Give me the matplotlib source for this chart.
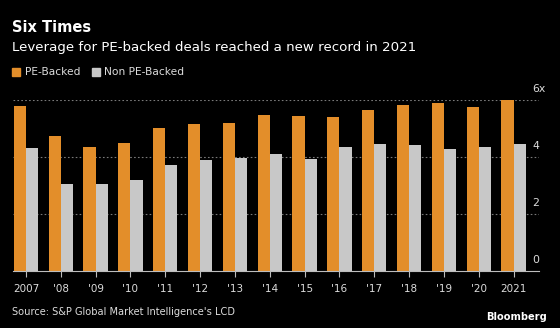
import numpy as np
import matplotlib
matplotlib.use("Agg")
import matplotlib.pyplot as plt
from matplotlib.patches import Rectangle

# leverage multiples by year
years = ["2007", "'08", "'09", "'10", "'11", "'12", "'13", "'14",
         "'15", "'16", "'17", "'18", "'19", "'20", "2021"]
pe_backed = [5.79, 4.75, 4.36, 4.48, 5.03, 5.15, 5.18, 5.49,
             5.45, 5.39, 5.64, 5.81, 5.91, 5.75, 6.00]
non_pe_backed = [4.30, 3.04, 3.04, 3.19, 3.71, 3.88, 3.98, 4.09,
                 3.94, 4.36, 4.46, 4.42, 4.27, 4.36, 4.46]
y_ticks = [0, 2, 4, 6]
y_labels = ["0", "2", "4", "6x"]

ORANGE = "#E38E2A"
GREY = "#C8C8C8"
TEXT = "#DCDCDC"
BG = "black"

plt.rcParams['font.family'] = ['DejaVu Sans']

fig = plt.figure(figsize=(5.6, 3.28), dpi=100, facecolor=BG)
W, H = 560.0, 328.0
ax = fig.add_axes([13 / W, 1 - 271 / H, 526 / W, 171 / H])
ax.set_facecolor(BG)

x = np.arange(len(years))
bw = 0.35
ax.bar(x - bw / 2, pe_backed, bw, color=ORANGE, zorder=3)
ax.bar(x + bw / 2, non_pe_backed, bw, color=GREY, zorder=3)

ax.set_xlim(-0.37, 14.73)
ax.set_ylim(0, 6)

# dotted gridlines and labels sitting above them
for t, lab in zip(y_ticks, y_labels):
    if t > 0:
        ax.axhline(t, color="#7A7A7A", lw=0.8, ls=(0, (1.5, 2)), zorder=1)
    ax.annotate(lab, xy=(1.0, t), xycoords=("axes fraction", "data"),
                xytext=(-5, 4), textcoords="offset points",
                ha="left", va="bottom", color=TEXT, fontsize=7.8,
                annotation_clip=False)

for s in ["top", "right", "left"]:
    ax.spines[s].set_visible(False)
ax.spines["bottom"].set_color("#BDBDBD")
ax.spines["bottom"].set_linewidth(0.8)
ax.spines["bottom"].set_zorder(4)
ax.set_yticks([])
ax.set_xticks(x)
ax.set_xticklabels(years)
ax.tick_params(axis="x", colors="#BDBDBD", length=4, width=0.8, pad=5,
               labelsize=7.5, labelcolor=TEXT)

# header
fig.text(12 / W, 1 - 27 / H, "Six Times", color="white", fontsize=10.5,
         fontweight="bold", va="center", ha="left")
fig.text(12 / W, 1 - 47 / H,
         "Leverage for PE-backed deals reached a new record in 2021",
         color="white", fontsize=9.6, va="center", ha="left")

# legend
for lx, tx, col, lab in [(12, 25, ORANGE, "PE-Backed"),
                         (92, 104, GREY, "Non PE-Backed")]:
    fig.patches.append(Rectangle((lx / W, 1 - 76 / H), 8 / W, 8 / H,
                                 transform=fig.transFigure, color=col))
    fig.text(tx / W, 1 - 72 / H, lab, color=TEXT, fontsize=7.7,
             va="center", ha="left")

# footer
fig.text(12 / W, 1 - 312 / H, "Source: S&P Global Market Intelligence's LCD",
         color=TEXT, fontsize=7.1, va="center", ha="left")
fig.text(547 / W, 1 - 317 / H, "Bloomberg", color="white", fontsize=7.1,
         fontweight="bold", va="center", ha="right")

fig.savefig("out.png", dpi=100, facecolor=BG)
